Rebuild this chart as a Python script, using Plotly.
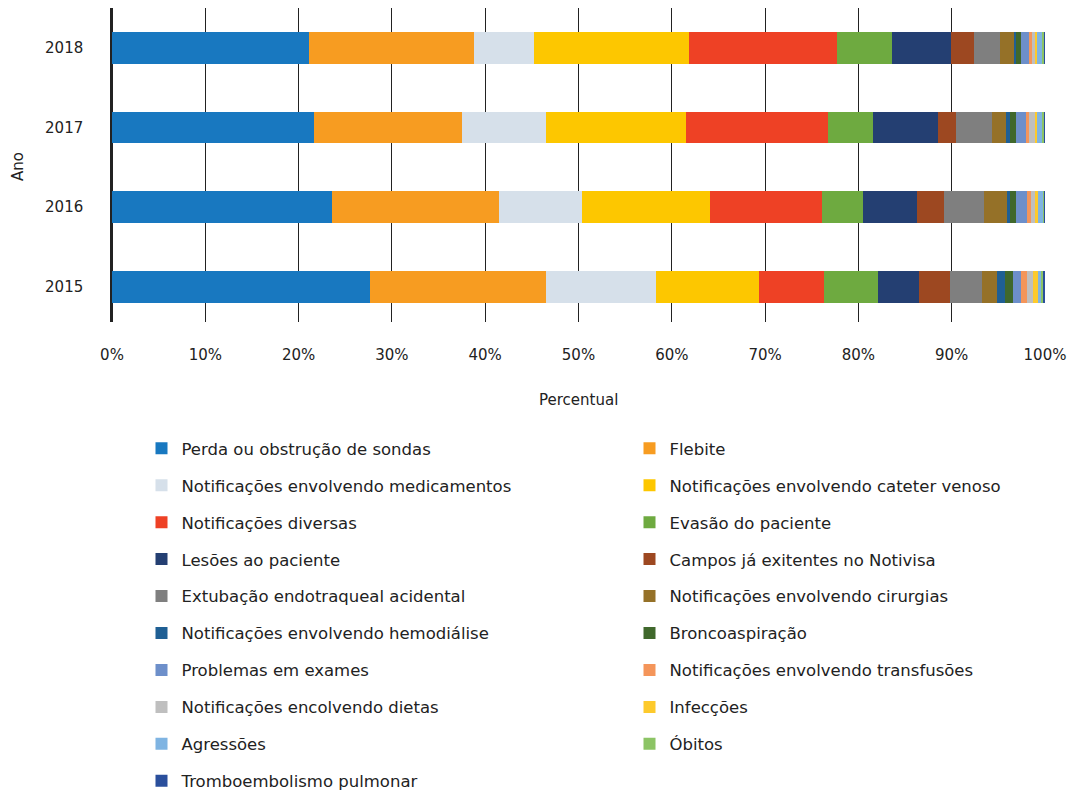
import plotly.graph_objects as go

years = ["2015", "2016", "2017", "2018"]

categories = [
    "Perda ou obstrução de sondas",
    "Flebite",
    "Notificações envolvendo medicamentos",
    "Notificações envolvendo cateter venoso",
    "Notificações diversas",
    "Evasão do paciente",
    "Lesões ao paciente",
    "Campos já exitentes no Notivisa",
    "Extubação endotraqueal acidental",
    "Notificações envolvendo cirurgias",
    "Notificações envolvendo hemodiálise",
    "Broncoaspiração",
    "Problemas em exames",
    "Notificações envolvendo transfusões",
    "Notificações encolvendo dietas",
    "Infecções",
    "Agressões",
    "Óbitos",
    "Tromboembolismo pulmonar",
]

# percent values per category, ordered as years (2015, 2016, 2017, 2018)
perda = [27.7, 23.6, 21.6, 21.1]
flebite = [18.9, 17.9, 15.9, 17.7]
medicamentos = [11.8, 8.9, 8.9, 6.5]
cateter = [11.1, 13.7, 15.0, 16.6]
diversas = [6.9, 12.0, 15.2, 15.8]
evasao = [5.8, 4.4, 4.8, 5.9]
lesoes = [4.4, 5.8, 7.0, 6.4]
campos = [3.4, 2.9, 1.9, 2.4]
extubacao = [3.4, 4.3, 3.9, 2.8]
cirurgias = [1.6, 2.5, 1.5, 1.5]
hemodialise = [0.86, 0.21, 0.39, 0.25]
bronco = [0.82, 0.68, 0.64, 0.54]
exames = [0.86, 1.21, 1.07, 0.9]
transfusoes = [0.64, 0.39, 0.32, 0.25]
dietas = [0.68, 0.43, 0.71, 0.3]
infeccoes = [0.54, 0.32, 0.18, 0.3]
agressoes = [0.29, 0.57, 0.57, 0.57]
obitos = [0.25, 0.14, 0.21, 0.15]
trombo = [0.21, 0.05, 0.07, 0.1]

series = [perda, flebite, medicamentos, cateter, diversas, evasao, lesoes, campos,
          extubacao, cirurgias, hemodialise, bronco, exames, transfusoes, dietas,
          infeccoes, agressoes, obitos, trombo]

colors = ["#1878c0", "#f79c21", "#d6e0ea", "#fdc700", "#ee4125", "#6eaa40",
          "#243f72", "#9d4821", "#7f7f7f", "#957128", "#1f5f94", "#40682c",
          "#6d8fca", "#f4955a", "#bfbfbf", "#fdca2c", "#7fb4e2", "#8cc465",
          "#2a4f9c"]

x_ticks = list(range(0, 101, 10))
x_ticklabels = [f"{v}%" for v in x_ticks]

FONT = "DejaVu Sans"
TXT = "#222222"

fig = go.Figure()
for i, (name, vals, col) in enumerate(zip(categories, series, colors)):
    fig.add_trace(go.Bar(
        y=years, x=vals, name=name, orientation="h",
        marker=dict(color=col, line=dict(width=0)),
        legend="legend" if i % 2 == 0 else "legend2",
        legendgroup=name,
        hovertemplate="%{y}: %{x:.1f}%<extra>" + name + "</extra>",
    ))

legend_common = dict(
    orientation="v", font=dict(family=FONT, size=16.5, color=TXT),
    bgcolor="rgba(0,0,0,0)", borderwidth=0, tracegroupgap=12.5,
    xref="container", yref="container", yanchor="top", xanchor="left",
    traceorder="grouped",
)

fig.update_layout(
    width=1067, height=791,
    margin=dict(l=112, r=22, t=8, b=469, autoexpand=False),
    barmode="stack", barnorm="percent", bargap=0.6,
    plot_bgcolor="white", paper_bgcolor="white",
    font=dict(family=FONT, size=15, color=TXT),
    showlegend=True,
    legend=dict(**legend_common, x=141.5 / 1067, y=1 - 431 / 791),
    legend2=dict(**legend_common, x=629.5 / 1067, y=1 - 431 / 791),
    xaxis=dict(
        range=[0, 100], tickvals=x_ticks, ticktext=x_ticklabels, tickangle=0,
        showgrid=True, gridcolor="#222222", gridwidth=1,
        zeroline=True, zerolinecolor="#222222", zerolinewidth=1,
        ticklabelstandoff=22, ticks="", automargin=False,
        fixedrange=True,
    ),
    yaxis=dict(
        type="category", categoryorder="array", categoryarray=years,
        range=[-0.44, 3.5], showgrid=False, zeroline=False,
        showline=True, linecolor="#222222", linewidth=1.5,
        ticks="", ticklabelstandoff=24, automargin=False,
        fixedrange=True,
    ),
    annotations=[
        dict(text="Percentual", xref="paper", yref="paper", x=0.5, y=-(400 - 322) / 314,
             xanchor="center", yanchor="middle", showarrow=False,
             font=dict(family=FONT, size=15, color=TXT)),
        dict(text="Ano", xref="paper", yref="paper", x=-(112 - 18) / 933, y=(322 - 167) / 314,
             xanchor="center", yanchor="middle", showarrow=False, textangle=-90,
             font=dict(family=FONT, size=15, color=TXT)),
    ],
)

fig.write_html("out.html")
